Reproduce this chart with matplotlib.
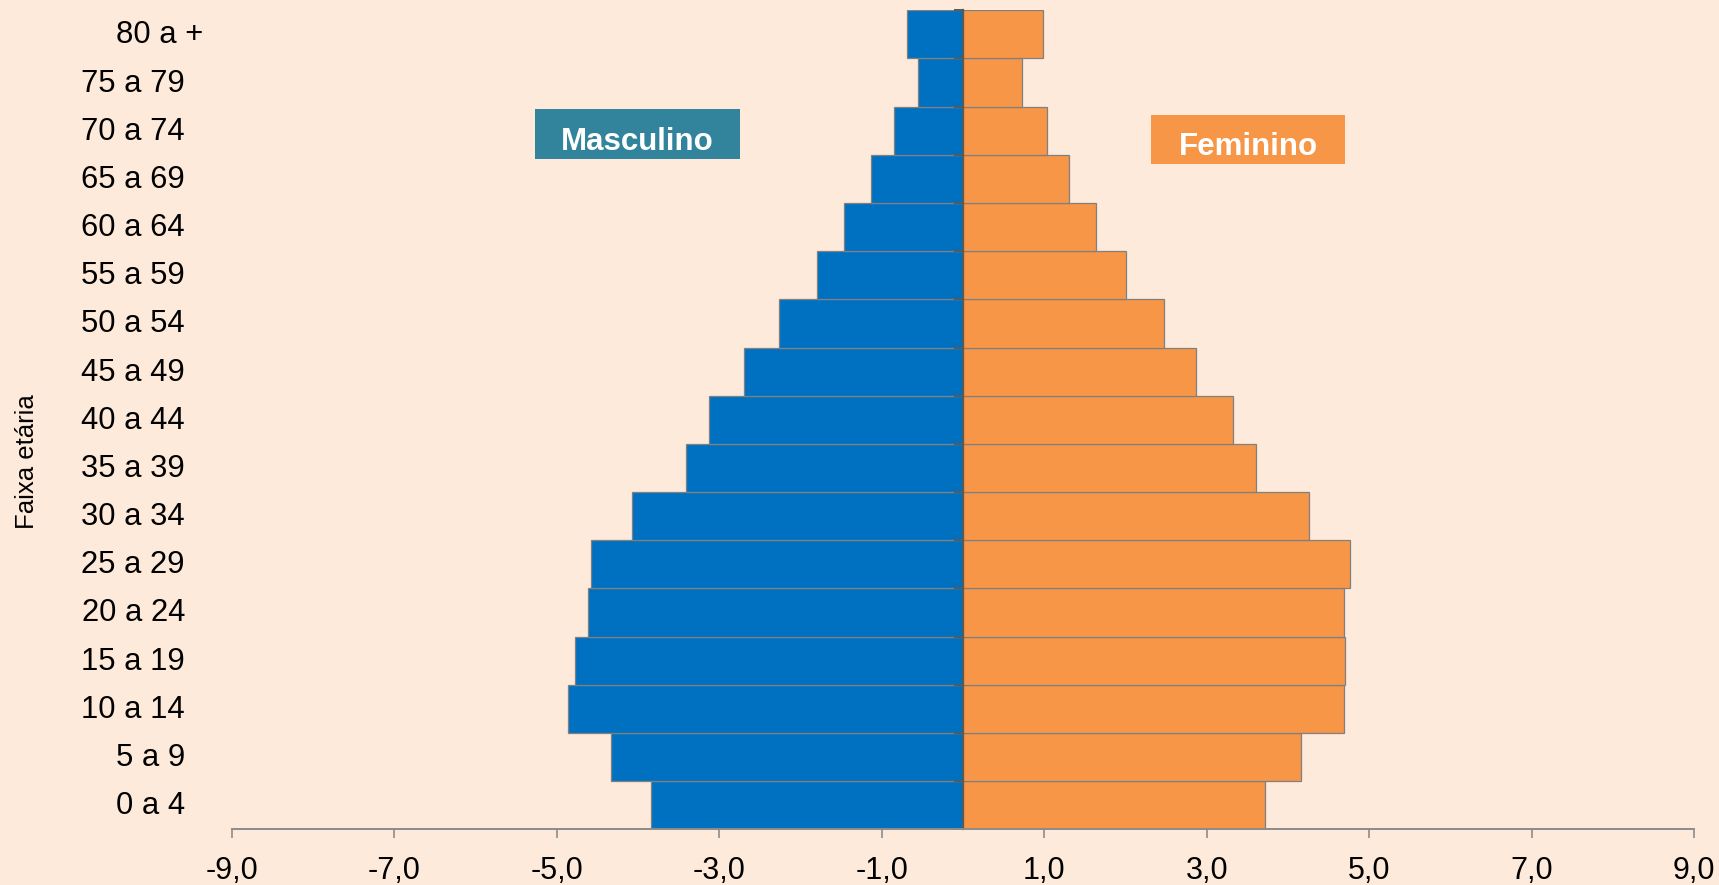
import numpy as np
import matplotlib
matplotlib.use("Agg")
import matplotlib.pyplot as plt
from matplotlib.patches import Rectangle

plt.rcParams['font.family'] = ['Liberation Sans', 'DejaVu Sans']

# Faixas etárias (de baixo para cima)
faixas = ['0 a 4', '5 a 9', '10 a 14', '15 a 19', '20 a 24', '25 a 29', '30 a 34',
          '35 a 39', '40 a 44', '45 a 49', '50 a 54', '55 a 59', '60 a 64',
          '65 a 69', '70 a 74', '75 a 79', '80 a +']

# Percentual da população (masculino negativo)
masculino = [-3.84, -4.33, -4.86, -4.77, -4.61, -4.58, -4.08, -3.41, -3.13,
             -2.70, -2.27, -1.80, -1.47, -1.13, -0.85, -0.55, -0.69]
feminino = [3.72, 4.16, 4.69, 4.70, 4.69, 4.76, 4.26, 3.60, 3.32,
            2.87, 2.47, 2.01, 1.64, 1.31, 1.03, 0.72, 0.98]

xticks = [-9, -7, -5, -3, -1, 1, 3, 5, 7, 9]

bg = '#FDEADA'
W, H = 1719, 885

fig = plt.figure(figsize=(W / 100, H / 100), dpi=100, facecolor=bg)
ax = fig.add_axes([231.75 / W, 1 - 829.3 / H, 1462.5 / W, 819.0 / H])
ax.set_facecolor(bg)

y = np.arange(len(faixas))
ax.barh(y, masculino, height=1.0, color='#0070C0', edgecolor='#808080', linewidth=0.9)
ax.barh(y, feminino, height=1.0, color='#F79646', edgecolor='#808080', linewidth=0.9)

ax.set_xlim(-9, 9)
ax.set_ylim(-0.5, len(faixas) - 0.5)

# eixo x
ax.set_xticks(xticks)
ax.set_xticklabels([f"{v:.1f}".replace('.', ',') for v in xticks], fontsize=22)
ax.tick_params(axis='x', direction='out', length=6.5, width=1.2, color='#8c8c8c', pad=13)
for s in ['top', 'right']:
    ax.spines[s].set_visible(False)
ax.spines['bottom'].set_color('#8c8c8c')
ax.spines['bottom'].set_linewidth(1.4)

# eixo das categorias no zero
ax.spines['left'].set_position(('data', 0))
ax.spines['left'].set_color('#595959')
ax.spines['left'].set_linewidth(1.6)
ax.set_yticks(np.arange(-0.5, len(faixas), 1))
ax.set_yticklabels([])
ax.tick_params(axis='y', direction='out', length=6.5, width=1.4, color='#595959')

# rótulos das faixas à esquerda
for i, lab in enumerate(faixas):
    xpos = -0.0197 if lab == '80 a +' else -0.032
    ax.text(xpos, i - 0.02, lab, transform=ax.get_yaxis_transform(), ha='right', va='center',
            fontsize=22.3, color='black')

fig.text(27 / W, 1 - 461.6 / H, 'Faixa etária', rotation=90, ha='center', va='center',
         fontsize=18.5, color='black')

# caixas de legenda
def caixa(x0, y0, x1, y1, cor, texto, base):
    fig.patches.append(Rectangle((x0 / W, 1 - y1 / H), (x1 - x0) / W, (y1 - y0) / H,
                                 transform=fig.transFigure, facecolor=cor, edgecolor='none'))
    fig.text((x0 + x1) / 2 / W, 1 - base / H, texto, ha='center', va='baseline',
             fontsize=22.5, fontweight='bold', color='white')

caixa(535, 109, 740, 159, '#31849B', 'Masculino', 150)
caixa(1151, 115, 1345, 163.7, '#F79646', 'Feminino', 155.3)

fig.savefig('out.png', dpi=100, facecolor=bg)
